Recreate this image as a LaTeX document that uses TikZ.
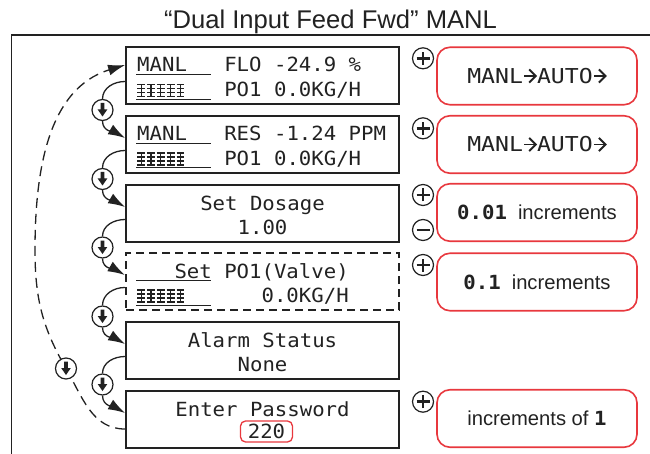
\documentclass[tikz,border=0pt]{standalone}
\usepackage{fontspec}
\setmainfont{Liberation Sans}
\newfontfamily\lcd[FakeStretch=1.06]{DejaVu Sans Mono}
\newfontfamily\lcdw[FakeStretch=1.13]{DejaVu Sans Mono}
\usetikzlibrary{arrows.meta}
\definecolor{ink}{HTML}{222222}
\definecolor{alertred}{RGB}{232,56,62}
\pgfdeclarelayer{back}
\pgfdeclarelayer{bg}
\pgfsetlayers{back,bg,main}
\begin{document}
\begin{tikzpicture}[x=1pt,y=1pt,
  lcdbox/.style={draw=ink, line width=1.8pt, minimum width=273pt, minimum height=57pt, inner sep=0pt},
  lcddash/.style={dash pattern=on 8pt off 5pt, line width=2.4pt},
  redbox/.style={draw=alertred, line width=1.6pt, rounded corners=13pt, minimum width=200pt, minimum height=57.5pt, inner sep=0pt, text=ink, font=\fontsize{20.2}{22}\selectfont},
  lcdtxt/.style={font=\lcd\fontsize{19.5}{20}\selectfont, text=ink, inner sep=0pt},
  uline/.style={draw=ink, line width=1pt},
  titletxt/.style={font=\fontsize{25.6}{28}\selectfont, text=ink, inner sep=0pt},
  conn/.style={draw=ink, line width=1.3pt},
  dconn/.style={draw=ink, line width=1.3pt, dash pattern=on 10pt off 6pt},
  headtip/.style={-{Latex[length=17pt,width=11pt]}},
  chev/.style={draw=ink, line width=1.9pt, line join=miter, line cap=butt},
  plusc/.style={circle, draw=ink, line width=1.2pt, fill=white, minimum size=21pt, inner sep=0pt,
    path picture={
      \draw[ink,line width=2.6pt] ([xshift=-6.5pt]path picture bounding box.center) -- ([xshift=6.5pt]path picture bounding box.center);
      \draw[ink,line width=2.6pt] ([yshift=-6.5pt]path picture bounding box.center) -- ([yshift=6.5pt]path picture bounding box.center);}},
  minusc/.style={circle, draw=ink, line width=1.2pt, fill=white, minimum size=21pt, inner sep=0pt,
    path picture={
      \draw[ink,line width=2.6pt] ([xshift=-6.5pt]path picture bounding box.center) -- ([xshift=6.5pt]path picture bounding box.center);}},
  downc/.style={circle, draw=ink, line width=1.2pt, fill=white, minimum size=21pt, inner sep=0pt,
    path picture={
      \fill[ink] ([shift={(-1.8pt,7pt)}]path picture bounding box.center) -- ++(3.6,0) -- ++(0,-6.5) -- ++(3,0) -- ++(-4.8,-7) -- ++(-4.8,7) -- ++(3,0) -- cycle;}},
  pics/lcdbars/.style={code={
    \foreach \i in {0,...,4}{
      \begin{scope}[xshift=\i*9.8pt]
        \draw[ink,line width=1.3pt] (4.2,0) -- (4.2,13);
        \foreach \h in {0.6,4.6,8.6,12.4}{\draw[ink,line width=1.3pt] (0.3,\h) -- (8.1,\h);}
      \end{scope}}}}
]
\useasboundingbox (0,0) rectangle (650,453);
\begin{pgfonlayer}{back}
\fill[white] (0,0) rectangle (650,453);
\end{pgfonlayer}

% frame and title
\draw[ink,line width=1.8pt] (11.5,-2) -- (11.5,418) -- (652,418);
\node[titletxt, anchor=base] (title) at (330.5,424) {“Dual Input Feed Fwd” MANL};

% LCD boxes
\node[lcdbox] (b1) at (262.5,377.5) {};
\node[lcdbox] (b2) at (262.5,308.5) {};
\node[lcdbox] (b3) at (262.5,239.5) {};
\node[lcdbox, lcddash] (b4) at (262.5,171.5) {};
\node[lcdbox] (b5) at (262.5,102.5) {};
\node[lcdbox] (b6) at (262.5,33.5) {};

% box 1 text
\node[lcdtxt, anchor=base west] (t1a) at (137,381) {MANL~~~FLO~-24.9~\%};
\node[lcdtxt, anchor=base west] (t1b) at (224.1,356) {PO1~0.0KG/H};
\pic at (137,356) {lcdbars};
\draw[uline] (136,378.5) -- (211,378.5);
\draw[uline] (136,353.5) -- (211,353.5);

% box 2 text
\node[lcdtxt, anchor=base west] (t2a) at (137,312) {MANL~~~RES~-1.24~PPM};
\node[lcdtxt, anchor=base west] (t2b) at (224.1,287.5) {PO1~0.0KG/H};
\pic at (137,287.5) {lcdbars};
\draw[uline] (136,309.5) -- (211,309.5);
\draw[uline] (136,285) -- (211,285);

% box 3 text
\node[lcdtxt, anchor=base] (t3a) at (262.5,243) {Set Dosage};
\node[lcdtxt, anchor=base] (t3b) at (262.5,218.5) {1.00};

% box 4 text
\node[lcdtxt, anchor=base west] (t4a) at (174.3,175) {Set~PO1(Valve)};
\draw[uline] (136,172.5) -- (211,172.5);
\pic at (137,150.5) {lcdbars};
\draw[uline] (136,148) -- (211,148);
\node[lcdtxt, anchor=base west] (t4b) at (261.4,150.5) {0.0KG/H};

% box 5 text
\node[lcdtxt, anchor=base] (t5a) at (262.5,106) {Alarm Status};
\node[lcdtxt, anchor=base] (t5b) at (262.5,81.5) {None};

% box 6 text
\node[lcdtxt, anchor=base] (t6a) at (262.5,37) {Enter Password};
\node[lcdtxt, draw=alertred, line width=1.3pt, rounded corners=5pt, inner xsep=7.3pt, minimum height=21pt] (pw) at (266.5,21.5) {220};

% red boxes
\node[redbox] (r1) at (537,377) {\lcdw\fontsize{20.5}{21}\selectfont MANL\phantom{0}AUTO\phantom{0}};
\node[redbox] (r2) at (537,308.5) {\lcdw\fontsize{20.5}{21}\selectfont MANL\phantom{0}AUTO\phantom{0}};
\node[redbox] (r3) at (537,240.5) {{\lcd\bfseries\fontsize{19.5}{20}\selectfont 0.01}\hspace{11pt}increments};
\node[redbox] (r4) at (537,171) {{\lcd\bfseries\fontsize{19.5}{20}\selectfont 0.1}\hspace{11pt}increments};
\node[redbox] (r6) at (537,34.5) {increments of {\lcd\bfseries\fontsize{19.5}{20}\selectfont 1}};

% arrow glyphs of the "MANL->AUTO->" texts (cell width 13.95pt)
\foreach \rb in {r1,r2}{
  \draw[chev] ([xshift=-12.8pt]\rb.center) -- ([xshift=-1.2pt]\rb.center);
  \draw[chev] ([shift={(-7.8pt,6.6pt)}]\rb.center) -- ([xshift=-1.2pt]\rb.center) -- ([shift={(-7.8pt,-6.6pt)}]\rb.center);
  \draw[chev] ([xshift=56.9pt]\rb.center) -- ([xshift=68.5pt]\rb.center);
  \draw[chev] ([shift={(61.9pt,6.6pt)}]\rb.center) -- ([xshift=68.5pt]\rb.center) -- ([shift={(61.9pt,-6.6pt)}]\rb.center);
}

% plus / minus keys
\node[plusc] (p1) at (423,394.7) {};
\node[plusc] (p2) at (423,324.7) {};
\node[plusc] (p3) at (423,258) {};
\node[minusc] (m3) at (423,223) {};
\node[plusc] (p4) at (423,188) {};
\node[plusc] (p6) at (423,51.3) {};

% down keys
\node[downc] (d1) at (102.5,343) {};
\node[downc] (d2) at (102.5,274) {};
\node[downc] (d3) at (102.5,205.5) {};
\node[downc] (d4) at (102.5,136.5) {};
\node[downc] (d5) at (102.5,68.5) {};
\node[downc] (dl) at (66,84.5) {};
\coordinate (lp) at (35,203);

\begin{pgfonlayer}{bg}
\draw[conn] ([yshift=-6pt]b1.west) to[out=180,in=90] (d1.north);
\draw[conn,headtip] (d1.south) to[out=-90,in=150] ([yshift=6.5pt]b2.west);
\draw[conn] ([yshift=-6pt]b2.west) to[out=180,in=90] (d2.north);
\draw[conn,headtip] (d2.south) to[out=-90,in=150] ([yshift=6.5pt]b3.west);
\draw[conn] ([yshift=-6pt]b3.west) to[out=180,in=90] (d3.north);
\draw[conn,headtip] (d3.south) to[out=-90,in=150] ([yshift=6.5pt]b4.west);
\draw[conn] ([yshift=-6pt]b4.west) to[out=180,in=90] (d4.north);
\draw[conn,headtip] (d4.south) to[out=-90,in=150] ([yshift=6.5pt]b5.west);
\draw[conn] ([yshift=-6pt]b5.west) to[out=180,in=90] (d5.north);
\draw[conn,headtip] (d5.south) to[out=-90,in=150] ([yshift=6.5pt]b6.west);
\draw[dconn,headtip] ([yshift=-9.5pt]b6.west) to[out=180,in=-60] (dl.center) to[out=120,in=-90] (lp) to[out=90,in=197] ([yshift=10.5pt]b1.west);
\end{pgfonlayer}
\end{tikzpicture}
\end{document}
